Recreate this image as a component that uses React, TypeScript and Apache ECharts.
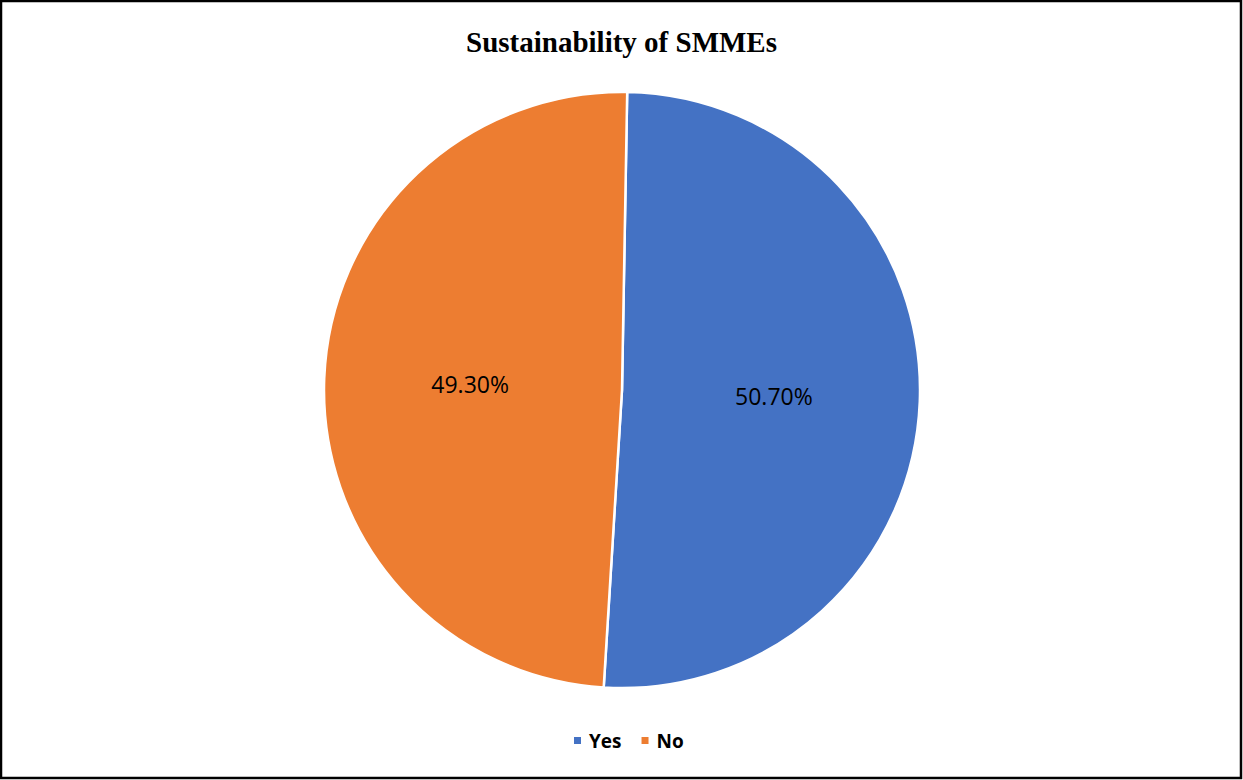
import React, { useEffect, useRef } from "react";
import * as echarts from "echarts";

const categories = ["Yes", "No"];
const values = [50.7, 49.3];
const colors = ["#4472C4", "#ED7D31"];
const titleText = "Sustainability of SMMEs";

export default function App() {
  const ref = useRef<HTMLDivElement>(null);
  useEffect(() => {
    const chart = echarts.init(ref.current!, null, { renderer: "svg" });
    chart.setOption({
      animation: false,
      backgroundColor: "#ffffff",
      title: {
        text: titleText,
        left: "center",
        top: 22,
        textStyle: {
          fontFamily: "Liberation Serif",
          fontWeight: "bold",
          fontSize: 29,
          color: "#000",
        },
      },
      legend: {
        data: categories,
        bottom: 25,
        left: 567,
        icon: "rect",
        itemWidth: 9,
        itemHeight: 9,
        itemGap: 18,
        textStyle: {
          fontFamily: "Open Sans",
          fontWeight: "bold",
          fontSize: 19,
          color: "#000",
          padding: [0, 0, 0, 2],
        },
      },
      graphic: [
        {
          type: "rect",
          shape: { x: 1, y: 1, width: 1240, height: 777 },
          style: { fill: "none", stroke: "#000", lineWidth: 2.5 },
          silent: true,
        },
      ],
      series: [
        {
          type: "pie",
          center: [622, 390],
          radius: [0, 298],
          startAngle: 89,
          clockwise: true,
          itemStyle: { borderColor: "#fff", borderWidth: 2.5 },
          label: {
            show: true,
            position: "inside",
            formatter: (p: any) => p.value.toFixed(2) + "%",
            fontFamily: "Open Sans",
            fontSize: 23,
            color: "#000",
          },
          labelLine: { show: false },
          data: categories.map((c, i) => ({
            name: c,
            value: values[i],
            itemStyle: { color: colors[i] },
          })),
        },
      ],
    });
    return () => chart.dispose();
  }, []);
  return (
    <div
      ref={ref}
      style={{ position: "fixed", left: 0, top: 0, width: 1243, height: 780 }}
    />
  );
}
